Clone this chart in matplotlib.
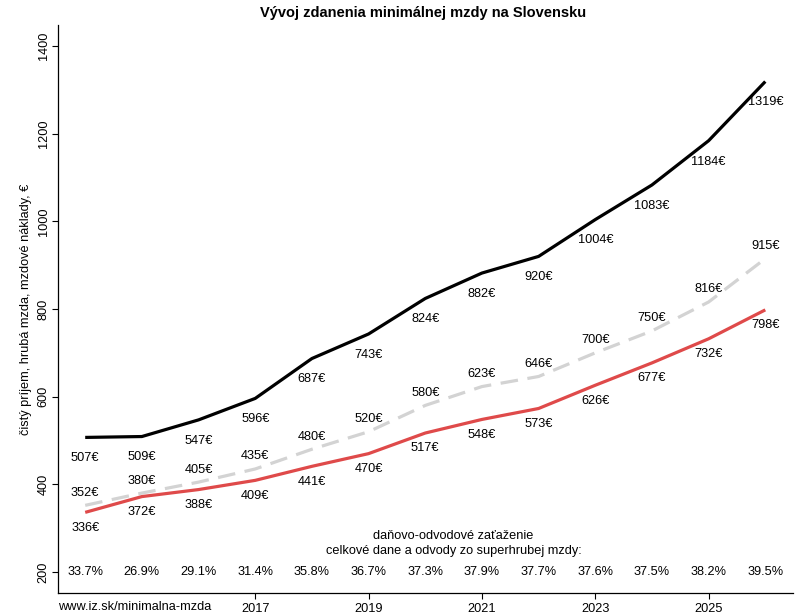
import numpy as np
import matplotlib
matplotlib.use("Agg")
import matplotlib.pyplot as plt

plt.rcParams["font.family"] = ["Liberation Sans", "DejaVu Sans"]

# data
years = np.arange(2014, 2027)
naklady = [507, 509, 547, 596, 687, 743, 824, 882, 920, 1004, 1083, 1184, 1319]
hruba = [352, 380, 405, 435, 480, 520, 580, 623, 646, 700, 750, 816, 915]
cista = [336, 372, 388, 409, 441, 470, 517, 548, 573, 626, 677, 732, 798]
zataz = [33.7, 26.9, 29.1, 31.4, 35.8, 36.7, 37.3, 37.9, 37.7, 37.6, 37.5, 38.2, 39.5]
xticks = [2017, 2019, 2021, 2023, 2025]
yticks = [200, 400, 600, 800, 1000, 1200, 1400]

fs = 9.2

fig = plt.figure(figsize=(8, 6.15), dpi=100)
ax = fig.add_axes([58 / 800, 1 - 593 / 615, (792.5 - 58) / 800, (593 - 25) / 615])

# lines
ax.plot(years, naklady, color="black", lw=2.3, solid_capstyle="butt")
ax.plot(years, hruba, color="#d3d3d3", lw=2.3, dashes=(5.5, 3))
ax.plot(years, cista, color="#df4a4a", lw=2.3, solid_capstyle="butt")

# labels
for x, v in zip(years, naklady):
    ax.annotate(f"{v}€", (x, v), xytext=(0, -15), textcoords="offset points",
                ha="center", va="center", fontsize=fs)
for x, v in zip(years, hruba):
    ax.annotate(f"{v}€", (x, v), xytext=(0, 9), textcoords="offset points",
                ha="center", va="center", fontsize=fs)
for x, v in zip(years, cista):
    ax.annotate(f"{v}€", (x, v), xytext=(0, -11), textcoords="offset points",
                ha="center", va="center", fontsize=fs)
for x, p in zip(years, zataz):
    ax.text(x, 200, f"{p}%", ha="center", va="center", fontsize=fs)

ax.text(2020.5, 282, "daňovo-odvodové zaťaženie", ha="center", va="center", fontsize=fs)
ax.text(2020.5, 248, "celkové dane a odvody zo superhrubej mzdy:", ha="center",
        va="center", fontsize=fs)

# axes
ax.set_xlim(2013.52, 2026.48)
ax.set_ylim(152, 1448)
ax.set_xticks(xticks)
ax.set_yticks(yticks)
ax.tick_params(labelsize=fs, length=4, width=0.8, direction="out", pad=2)
ax.tick_params(axis="x", pad=3)
for lab in ax.get_yticklabels():
    lab.set_rotation(90)
    lab.set_va("center")
ax.spines["top"].set_visible(False)
ax.spines["right"].set_visible(False)
ax.spines["left"].set_linewidth(0.9)
ax.spines["bottom"].set_linewidth(0.9)
ax.set_ylabel("čistý príjem, hrubá mzda, mzdové náklady, €", fontsize=fs, labelpad=4)

fig.text(58 / 800, 1 - 607 / 615, "www.iz.sk/minimalna-mzda", ha="left", va="center",
         fontsize=fs)
fig.text(423 / 800, 1 - 13 / 615, "Vývoj zdanenia minimálnej mzdy na Slovensku",
         ha="center", va="center", fontsize=10.5, fontweight="bold")

fig.savefig("out.png", dpi=100)
